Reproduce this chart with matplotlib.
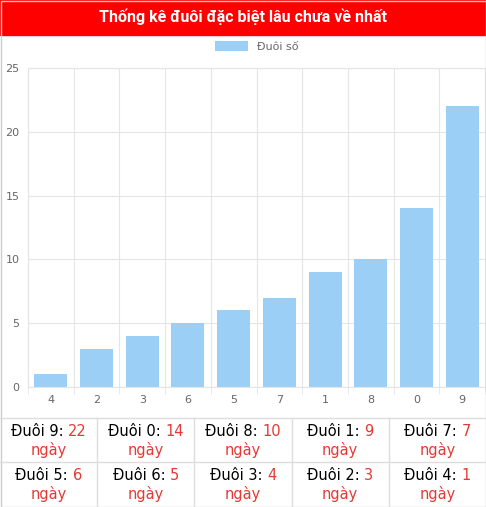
import matplotlib
matplotlib.use("Agg")
import matplotlib.pyplot as plt
from matplotlib.patches import Rectangle

categories = ["4", "2", "3", "6", "5", "7", "1", "8", "0", "9"]
values = [1, 3, 4, 5, 6, 7, 9, 10, 14, 22]
table_digits = [["9", "0", "8", "1", "7"], ["5", "6", "3", "2", "4"]]
table_values = [["22", "14", "10", "9", "7"], ["6", "5", "4", "3", "1"]]

W, H = 486, 507
fig = plt.figure(figsize=(W/100, H/100), dpi=100)
def fx(x): return x / W
def fy(y): return 1 - y / H

# title bar
fig.patches.append(Rectangle((0, fy(35)), 1, 35/H, transform=fig.transFigure, color="#ff0000", zorder=0))
fig.text(0.5, fy(17), "Thống kê đuôi đặc biệt lâu chưa về nhất", color="white",
         ha="center", va="center", fontsize=11.5, fontweight="bold", family="Roboto")
fig.patches.append(Rectangle((0.5/W, 0.5/H), 1-1/W, 1-1/H, transform=fig.transFigure,
                             fill=False, edgecolor="#cccccc", lw=1))

ax = fig.add_axes([fx(28), fy(387), fx(485-28), (387-68)/H])
x = range(len(categories))
ax.bar(x, values, width=0.72, color="#9ccff5", label="Đuôi số")
ax.set_xlim(-0.5, len(categories)-0.5)
ax.set_ylim(0, 25)
ax.set_yticks([0, 5, 10, 15, 20, 25])
ax.set_xticks(list(x))
ax.set_xticklabels(categories)
ax.set_xticks([i+0.5 for i in range(-1, len(categories))], minor=True)
ax.grid(True, which="minor", axis="x", color="#e5e5e5", lw=0.8)
ax.grid(True, which="major", axis="y", color="#e5e5e5", lw=0.8)
ax.tick_params(axis="both", which="major", length=0, labelsize=8, colors="#666666", pad=6)
ax.tick_params(axis="x", which="minor", length=5, color="#e5e5e5")
ax.set_axisbelow(True)
for s in ax.spines.values():
    s.set_color("#e5e5e5")
ax.legend(loc="lower center", bbox_to_anchor=(0.5, 1.02), frameon=False, fontsize=8,
          labelcolor="#666666", handlelength=3, handleheight=1)

# table
for yl in [418, 462]:
    fig.add_artist(plt.Line2D([0, 1], [fy(yl), fy(yl)], color="#dddddd", lw=1))
for c in range(1, 5):
    fig.add_artist(plt.Line2D([fx(c*97.2), fx(c*97.2)], [fy(418), fy(506)], color="#dddddd", lw=1))

fig.canvas.draw()
r = fig.canvas.get_renderer()
for ri in range(2):
    for ci in range(5):
        cx = fx(ci*97.2 + 48.6)
        y1 = fy(418 + 13 + ri*44)
        y2 = fy(418 + 32 + ri*44)
        t1 = fig.text(0, y1, f"Đuôi {table_digits[ri][ci]}: ", color="black", fontsize=10.5, va="center")
        t2 = fig.text(0, y1, table_values[ri][ci], color="#e53935", fontsize=10.5, va="center")
        w1 = t1.get_window_extent(r).width / W
        w2 = t2.get_window_extent(r).width / W
        start = cx - (w1 + w2) / 2
        t1.set_x(start)
        t2.set_x(start + w1)
        fig.text(cx, y2, "ngày", color="#e53935", fontsize=10.5, ha="center", va="center")

fig.savefig("out.png", dpi=100)
